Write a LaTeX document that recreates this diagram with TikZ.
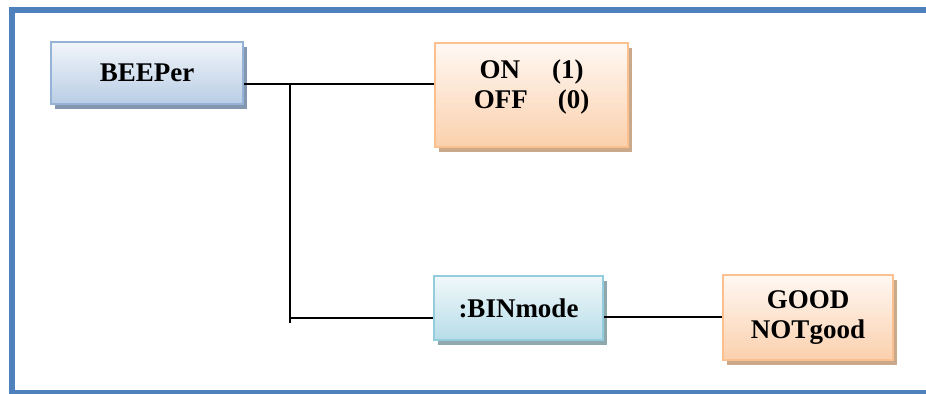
\documentclass[tikz,border=0pt]{standalone}
\usepackage{fontspec}
\setmainfont{Liberation Serif}
\usepackage{xcolor}
\usepackage{tikz}
\usetikzlibrary{shadows}
\definecolor{frameblue}{HTML}{4F81BD}
\definecolor{blueedge}{HTML}{95B3D7}
\definecolor{bluefill}{HTML}{B9CDE5}
\definecolor{blueshade}{HTML}{8497B0}
\definecolor{peachedge}{HTML}{FAC08F}
\definecolor{peachfill}{HTML}{FBD0AD}
\definecolor{peachshade}{HTML}{C9A98A}
\definecolor{tealedge}{HTML}{93CDDD}
\definecolor{tealfill}{HTML}{B7DDE8}
\definecolor{tealshade}{HTML}{8FA8AE}

\tikzset{
  boxtxt/.style={font=\fontsize{13.5}{15}\selectfont\bfseries, align=center},
  box/.style={boxtxt, draw, line width=1pt, inner sep=0pt},
  bluebox/.style={box, draw=blueedge, top color=white!80!bluefill, bottom color=bluefill,
    general shadow={fill=blueshade, shadow xshift=2pt, shadow yshift=-2.5pt}},
  peachbox/.style={box, draw=peachedge, top color=white!85!peachfill, bottom color=peachfill,
    general shadow={fill=peachshade, shadow xshift=2pt, shadow yshift=-2.5pt}},
  tealbox/.style={box, draw=tealedge, top color=white!80!tealfill, bottom color=tealfill,
    general shadow={fill=tealshade, shadow xshift=2pt, shadow yshift=-2.5pt}},
  wire/.style={line width=1pt}
}

\begin{document}
\begin{tikzpicture}[x=0.5pt, y=-0.5pt]
  \useasboundingbox (0,0) rectangle (926,394);

  % Frame (open on the right)
  \draw[frameblue, line width=3pt] (926,10.5) -- (12,10.5) -- (12,393.5) -- (926,393.5);

  % Boxes
  \node[bluebox, minimum width=96pt, minimum height=31pt] (beeper) at (147,73) {BEEPer};
  \node[peachbox, minimum width=96.5pt, minimum height=52pt,
        label={[boxtxt, yshift=4pt]center:ON\hspace{16pt}(1)\\OFF\hspace{15pt}(0)}] (onoff) at (531.5,95) {};
  \node[tealbox, minimum width=84.5pt, minimum height=32pt] (binmode) at (518.5,308) {:BINmode};
  \node[peachbox, minimum width=85pt, minimum height=42.5pt] (good) at (808,317.5) {GOOD\\NOTgood};

  % Junctions
  \coordinate (jtop) at (290,84);
  \coordinate (jbot) at (290,318);
  \coordinate (jend) at (290,323);

  % Connectors
  \draw[wire] (jtop -| beeper.east) -- (jtop -| onoff.west);
  \draw[wire] (jtop) -- (jend);
  \draw[wire] (jbot) -- (jbot -| binmode.west);
  \draw[wire] (binmode.east |- 0,317) -- (good.west |- 0,317);
\end{tikzpicture}
\end{document}
